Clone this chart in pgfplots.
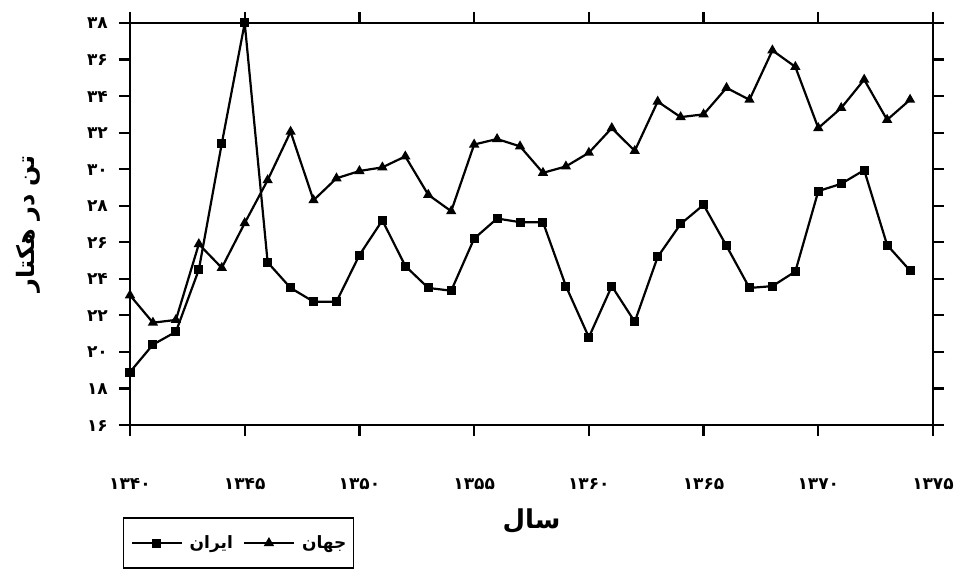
\documentclass[border=0pt]{standalone}
\usepackage{fontspec}
\usepackage{pgfplots}
\pgfplotsset{compat=1.18}
\TeXXeTstate=1
\newfontfamily\arabicfont[Script=Arabic]{DejaVu Sans}
\newcommand{\tf}{\arabicfont\bfseries\fontsize{17}{20}\selectfont}
\newcommand{\lf}{\arabicfont\bfseries\fontsize{17}{20}\selectfont}
\pgfplotstableread{
year iran world
1340 18.9 23.1
1341 20.4 21.6
1342 21.1 21.75
1343 24.5 25.9
1344 31.4 24.6
1345 38.0 27.05
1346 24.9 29.4
1347 23.5 32.05
1348 22.75 28.3
1349 22.75 29.5
1350 25.3 29.9
1351 27.2 30.1
1352 24.7 30.7
1353 23.5 28.6
1354 23.35 27.7
1355 26.2 31.35
1356 27.3 31.65
1357 27.1 31.25
1358 27.1 29.8
1359 23.6 30.15
1360 20.8 30.9
1361 23.6 32.25
1362 21.65 31.0
1363 25.2 33.7
1364 27.0 32.85
1365 28.05 33.0
1366 25.8 34.45
1367 23.5 33.8
1368 23.6 36.5
1369 24.4 35.6
1370 28.8 32.25
1371 29.2 33.35
1372 29.95 34.9
1373 25.85 32.7
1374 24.45 33.8
}\datatable
\begin{document}
\begin{tikzpicture}[x=1pt,y=1pt]
\path[use as bounding box] (0,0) rectangle (963,570);
\begin{axis}[
  at={(130pt,145pt)}, anchor=south west,
  scale only axis, width=803pt, height=402pt,
  xmin=1340, xmax=1375, ymin=16, ymax=38,
  xtick={1340,1345,...,1375},
  xticklabels={۱۳۴۰,۱۳۴۵,۱۳۵۰,۱۳۵۵,۱۳۶۰,۱۳۶۵,۱۳۷۰,۱۳۷۵},
  ytick={16,18,...,38},
  yticklabels={۱۶,۱۸,۲۰,۲۲,۲۴,۲۶,۲۸,۳۰,۳۲,۳۴,۳۶,۳۸},
  tick align=outside, major tick length=11pt,
  every tick/.style={line width=2.2pt, black},
  axis line style={line width=2.8pt},
  ticklabel style={font=\tf, inner sep=0pt},
  xticklabel style={anchor=base, yshift=-53pt},
  yticklabel style={anchor=base east, xshift=-11pt, yshift=-6pt},
  xlabel={\arabicfont\bfseries\fontsize{26}{30}\selectfont\beginR سال\endR},
  xlabel style={at={(axis description cs:0.5,-0.24)}, anchor=center},
  ylabel={\arabicfont\bfseries\fontsize{24}{28}\selectfont\beginR تن در هکتار\endR},
  ylabel style={at={(axis description cs:-0.127,0.5)}, anchor=center},
  legend columns=-1,
  legend style={at={(axis description cs:-0.009,-0.229)}, anchor=north west,
    font=\lf, draw=black, line width=1.5pt, inner xsep=7pt, inner ysep=18pt,
    nodes={inner sep=0pt},
    /tikz/every odd column/.append style={column sep=7pt},
    /tikz/every even column/.append style={column sep=10pt}},
  legend image code/.code={\draw[mark repeat=2,mark phase=2,#1] plot coordinates {(0pt,0pt) (25pt,0pt) (50pt,0pt)};},
]
\addplot[black, line width=2.2pt, mark=square*, mark size=3.4pt, mark options={solid}] table[x=year,y=iran] {\datatable};
\addlegendentry{\beginR ایران\endR}
\addplot[black, line width=2.2pt, mark=triangle*, mark size=3.8pt, mark options={solid}] table[x=year,y=world] {\datatable};
\addlegendentry{\beginR جهان\endR}
\end{axis}
\end{tikzpicture}
\end{document}
